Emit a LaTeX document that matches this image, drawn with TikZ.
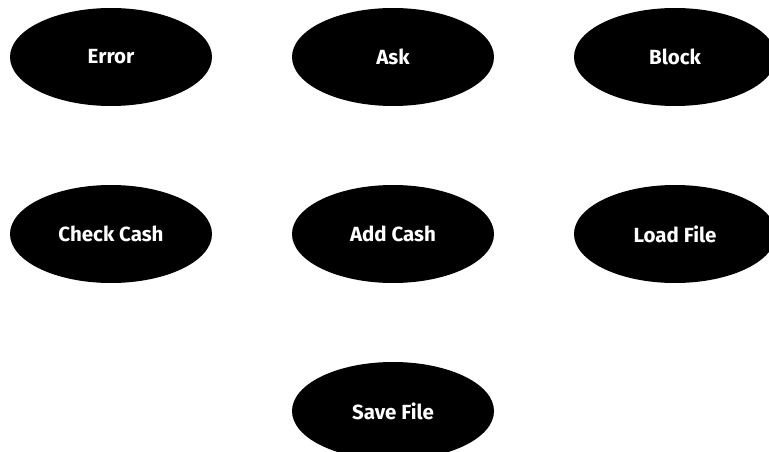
\documentclass[tikz,border=0pt]{standalone}
\usepackage{fontspec}
\setmainfont{Fira Sans}[BoldFont={Fira Sans Bold}]
\usetikzlibrary{shapes.geometric}
\begin{document}
\begin{tikzpicture}[x=1pt,y=-1pt,
  state/.style={ellipse,fill=black,minimum width=202pt,minimum height=98pt,inner sep=0pt,
    text=white,font=\bfseries\fontsize{20.5}{24}\selectfont}]
\useasboundingbox (0,0) rectangle (769,452);
\begin{scope}
\clip (0,0) rectangle (769,452);
\node[state] (error) at (111,57) {Error};
\node[state] (ask) at (393,57) {Ask};
\node[state] (block) at (675,57) {Block};
\node[state] (check) at (111,234) {Check Cash};
\node[state] (add) at (393,234) {Add Cash};
\node[state] (load) at (675,234) {Load File};
\node[state] (save) at (393,411) {Save File};
\end{scope}
\end{tikzpicture}
\end{document}
